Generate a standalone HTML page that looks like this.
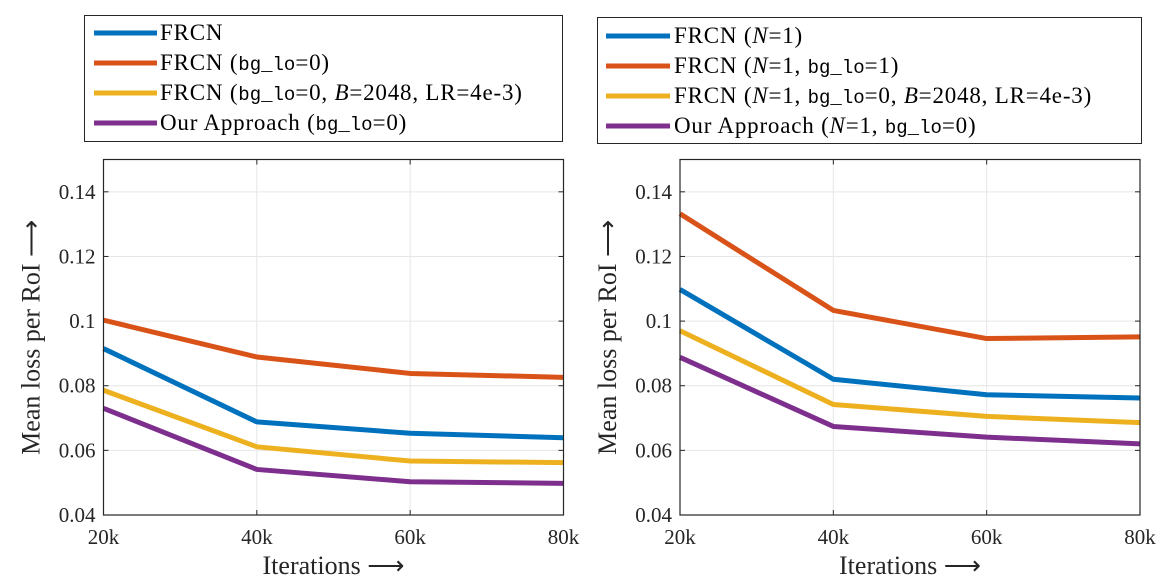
<!DOCTYPE html>
<html><head><meta charset="utf-8"><style>
body{margin:0;background:#fff}
svg{display:block;font-family:"Liberation Serif",serif}
.lg text{font-size:23px;letter-spacing:0.8px}
.tt{font-family:"Liberation Mono",monospace;font-size:19px;letter-spacing:0}
</style></head><body>
<svg id="chart" width="1160" height="586" viewBox="0 0 1160 586" xmlns="http://www.w3.org/2000/svg">
<g id="legend-left" class="lg">
<rect x="84.5" y="15.5" width="478" height="126" fill="#fff" stroke="#262626" stroke-width="1"/>
<line x1="94" y1="33" x2="157" y2="33" stroke="#0072BD" stroke-width="5"/>
<text x="160" y="40">FRCN</text>
<line x1="94" y1="63" x2="157" y2="63" stroke="#D95319" stroke-width="5"/>
<text x="160" y="70">FRCN (<tspan class="tt">bg_lo</tspan>=0)</text>
<line x1="94" y1="93" x2="157" y2="93" stroke="#EDB120" stroke-width="5"/>
<text x="160" y="100">FRCN (<tspan class="tt">bg_lo</tspan>=0, <tspan font-style="italic">B</tspan>=2048, LR=4e-3)</text>
<line x1="94" y1="123" x2="157" y2="123" stroke="#7E2F8E" stroke-width="5"/>
<text x="160" y="130">Our Approach (<tspan class="tt">bg_lo</tspan>=0)</text>
</g>
<g id="legend-right" class="lg">
<rect x="597.5" y="17.5" width="544" height="126" fill="#fff" stroke="#262626" stroke-width="1"/>
<line x1="606" y1="36" x2="670" y2="36" stroke="#0072BD" stroke-width="5"/>
<text x="674" y="43">FRCN (<tspan font-style="italic">N</tspan>=1)</text>
<line x1="606" y1="66" x2="670" y2="66" stroke="#D95319" stroke-width="5"/>
<text x="674" y="73">FRCN (<tspan font-style="italic">N</tspan>=1, <tspan class="tt">bg_lo</tspan>=1)</text>
<line x1="606" y1="96" x2="670" y2="96" stroke="#EDB120" stroke-width="5"/>
<text x="674" y="103">FRCN (<tspan font-style="italic">N</tspan>=1, <tspan class="tt">bg_lo</tspan>=0, <tspan font-style="italic">B</tspan>=2048, LR=4e-3)</text>
<line x1="606" y1="126" x2="670" y2="126" stroke="#7E2F8E" stroke-width="5"/>
<text x="674" y="133">Our Approach (<tspan font-style="italic">N</tspan>=1, <tspan class="tt">bg_lo</tspan>=0)</text>
</g>
</svg>
<script>
const categories=["20k","40k","60k","80k"];
const yTicks=[0.04,0.06,0.08,0.1,0.12,0.14];
const yTickLabels=["0.04","0.06","0.08","0.1","0.12","0.14"];
const colors=["#0072BD","#D95319","#EDB120","#7E2F8E"];
const seriesNames=["frcn","frcn-bglo","frcn-b2048","our-approach"];
const leftBlue=[0.0915,0.0688,0.0653,0.0639];
const leftOrange=[0.1003,0.0889,0.0838,0.0826];
const leftYellow=[0.0786,0.0611,0.0567,0.0562];
const leftPurple=[0.0730,0.0541,0.0503,0.0498];
const rightBlue=[0.1098,0.0820,0.0772,0.0762];
const rightOrange=[0.1332,0.1033,0.0946,0.0951];
const rightYellow=[0.0970,0.0742,0.0705,0.0686];
const rightPurple=[0.0888,0.0674,0.0641,0.0620];
const yMin=0.04,yMax=0.15;
const NS="http://www.w3.org/2000/svg";
const svg=document.getElementById("chart");
function mk(tag,attrs,parent){const e=document.createElementNS(NS,tag);for(const k in attrs)e.setAttribute(k,attrs[k]);parent.appendChild(e);return e;}
function drawPanel(px,series,side){
  const L=px,R=px+460,T=159.5,B=515;
  const xs=i=>L+(R-L)*i/(categories.length-1);
  const ys=v=>B-(v-yMin)/(yMax-yMin)*(B-T);
  const g=mk("g",{},svg);
  
  
  categories.forEach((c,i)=>{const x=xs(i);
    const gl=mk("line",{x1:x,x2:x,y1:T,y2:B,stroke:"#e6e6e6","stroke-width":1},g);
    
    mk("line",{x1:x,x2:x,y1:B,y2:B-5,stroke:"#262626"},g);
    mk("line",{x1:x,x2:x,y1:T,y2:T+5,stroke:"#262626"},g);
    const t=mk("text",{x:x,y:B+29,"text-anchor":"middle","font-size":"21",fill:"#262626"},g);t.textContent=c;
    
  });
  yTicks.forEach((v,i)=>{const y=ys(v);
    const gl=mk("line",{x1:L,x2:R,y1:y,y2:y,stroke:"#e6e6e6","stroke-width":1},g);
    
    mk("line",{x1:L,x2:L+5,y1:y,y2:y,stroke:"#262626"},g);
    mk("line",{x1:R,x2:R-5,y1:y,y2:y,stroke:"#262626"},g);
    const t=mk("text",{x:L-8,y:y+7,"text-anchor":"end","font-size":"21",fill:"#262626"},g);t.textContent=yTickLabels[i];
    
  });
  series.forEach((s,k)=>{
    const p=mk("polyline",{points:s.map((v,i)=>xs(i)+","+ys(v)).join(" "),fill:"none",stroke:colors[k],"stroke-width":5,"stroke-linejoin":"round"},g);
    
    
  });
  const fr=mk("rect",{x:L,y:T,width:R-L,height:B-T,fill:"none",stroke:"#262626","stroke-width":1.2},g);
  
  const xt=mk("text",{x:(L+R)/2,y:B+59,"text-anchor":"middle","font-size":"26",fill:"#262626"},g);xt.textContent="Iterations ⟶";
  
  const yt=mk("text",{x:0,y:0,"text-anchor":"middle","font-size":"26",fill:"#262626",transform:`translate(${L-64},${(T+B)/2}) rotate(-90)`},g);yt.textContent="Mean loss per RoI ⟶";
  
}
drawPanel(103.5,[leftBlue,leftOrange,leftYellow,leftPurple],"left");
drawPanel(680,[rightBlue,rightOrange,rightYellow,rightPurple],"right");
</script>
</body></html>
